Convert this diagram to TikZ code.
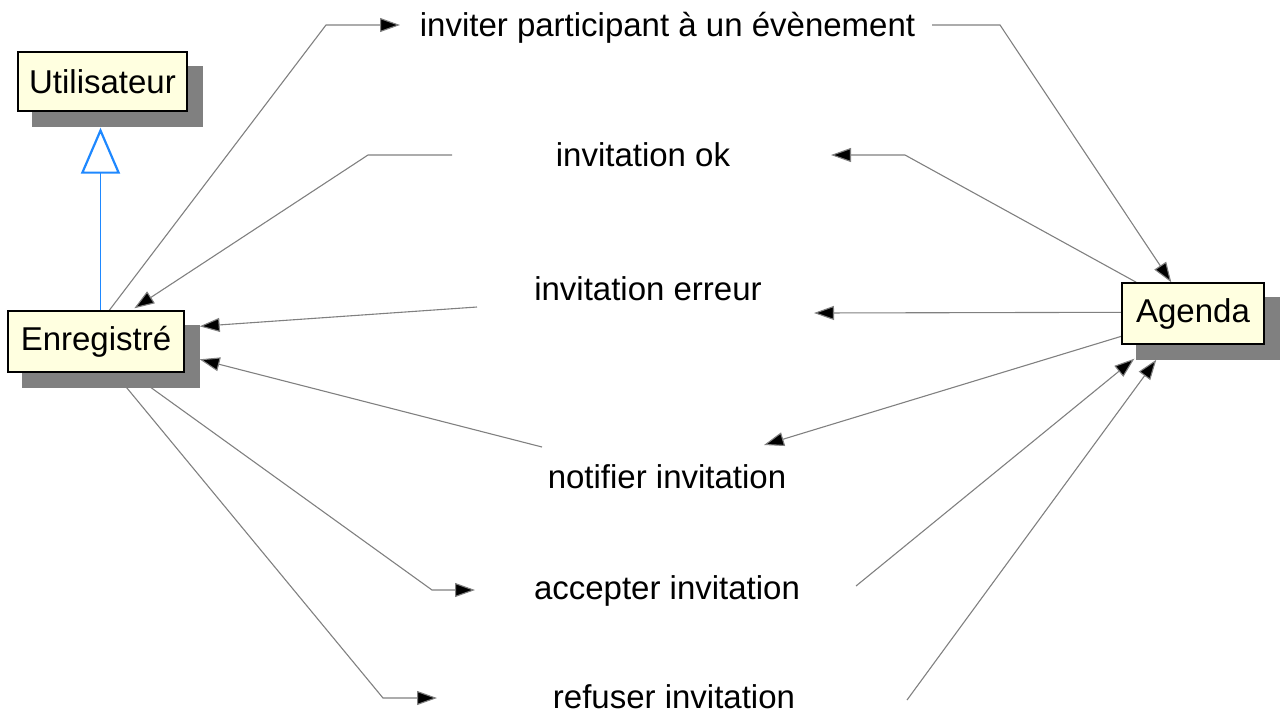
\documentclass[tikz,border=0pt]{standalone}
\usepackage{fontspec}
\setmainfont{Liberation Sans}
\usetikzlibrary{arrows.meta,calc}
\definecolor{boxfill}{HTML}{FFFFE0}
\definecolor{shadowgray}{HTML}{808080}
\definecolor{linegray}{HTML}{808080}
\definecolor{genblue}{HTML}{1E88FF}
\tikzset{
  umlclass/.style={draw=black, line width=1.4pt, fill=boxfill, inner sep=0pt,
    font=\fontsize{33}{40}\selectfont},
  msg/.style={anchor=base, inner sep=0pt, font=\fontsize{33}{40}\selectfont},
  conn/.style={draw=linegray, line width=1.1pt},
  tip/.style={-{Triangle[length=20pt,width=14pt,fill=black]}, conn},
  generalise/.style={draw=genblue, line width=1.6pt,
    -{Triangle[open,length=46pt,width=39pt,line width=2.2pt]}}
}
\begin{document}
\begin{tikzpicture}[x=1pt,y=-1pt]
\useasboundingbox (0,0) rectangle (1282,713);

% actors (placed first so the connectors can refer to them)
\node[umlclass, minimum width=169pt, minimum height=59pt] (usr) at (102.5,81.5) {Utilisateur};
\node[umlclass, minimum width=176pt, minimum height=61pt] (enr) at (96,341.5) {Enregistré};
\node[umlclass, minimum width=142pt, minimum height=61pt] (agd) at (1193,313.5) {Agenda};

% message labels
\node[msg] (m1) at (667.5,36) {inviter participant à un évènement};
\node[msg] (m2) at (643,166) {invitation ok};
\node[msg] (m3) at (648,300) {invitation erreur};
\node[msg] (m4) at (667,488) {notifier invitation};
\node[msg] (m5) at (667,599) {accepter invitation};
\node[msg] (m6) at (674,708) {refuser invitation};

% anchor points on the actors
\coordinate (enrTopA) at ($(enr.north west)+(102,0)$);
\coordinate (enrTopB) at ($(enr.north west)+(127,-2)$);
\coordinate (enrR1)   at ($(enr.north east)+(15,16)$);
\coordinate (enrR2)   at ($(enr.north east)+(15,49)$);
\coordinate (enrBotA) at ($(enr.south west)+(123,0)$);
\coordinate (enrBotB) at ($(enr.south west)+(107,0)$);
\coordinate (agdTopA) at ($(agd.north west)+(50,0)$);
\coordinate (agdTopB) at ($(agd.north west)+(15,0)$);
\coordinate (agdL1)   at ($(agd.north west)+(0,30)$);
\coordinate (agdL2)   at ($(agd.north west)+(0,54)$);
\coordinate (agdBotA) at ($(agd.south west)+(13,14)$);
\coordinate (agdBotB) at ($(agd.south west)+(35,15)$);

% bends and free ends of the message connectors
\coordinate (b1a) at (326,25);   \coordinate (t1a) at (400,25);
\coordinate (s1b) at (932,25);   \coordinate (b1b) at (1000,25);
\coordinate (b2a) at (905,155);  \coordinate (t2a) at (831,155);
\coordinate (s2b) at (452,155);  \coordinate (b2b) at (368,155);
\coordinate (t3a) at (814,313);  \coordinate (s3b) at (477,307);
\coordinate (t4a) at (764,445);  \coordinate (s4b) at (542,447);
\coordinate (b5a) at (432,590);  \coordinate (t5a) at (475,590);
\coordinate (s5b) at (856,586);
\coordinate (b6a) at (383,698);  \coordinate (t6a) at (437,698);
\coordinate (s6b) at (907,700);

% connectors
\draw[tip] (enrTopA) -- (b1a) -- (t1a);
\draw[tip] (s1b) -- (b1b) -- (agdTopA);
\draw[tip] (agdTopB) -- (b2a) -- (t2a);
\draw[tip] (s2b) -- (b2b) -- (enrTopB);
\draw[tip] (agdL1) -- (t3a);
\draw[tip] (s3b) -- (enrR1);
\draw[tip] (agdL2) -- (t4a);
\draw[tip] (s4b) -- (enrR2);
\draw[tip] (enrBotA) -- (b5a) -- (t5a);
\draw[tip] (s5b) -- (agdBotA);
\draw[tip] (enrBotB) -- (b6a) -- (t6a);
\draw[tip] (s6b) -- (agdBotB);

% drop shadows
\foreach \n in {usr,enr,agd}{
  \fill[shadowgray] ($(\n.south west)+(15,15)$) rectangle ($(\n.north east)+(15,15)$);
}

% generalisation Enregistré -> Utilisateur
\coordinate (genTop) at ($(usr.south)+(-2,16)$);
\draw[generalise] (enr.north -| genTop) -- (genTop);

% actor boxes redrawn above their shadows
\node[umlclass, minimum width=169pt, minimum height=59pt] at (usr) {Utilisateur};
\node[umlclass, minimum width=176pt, minimum height=61pt] at (enr) {Enregistré};
\node[umlclass, minimum width=142pt, minimum height=61pt] at (agd) {Agenda};
\end{tikzpicture}
\end{document}
